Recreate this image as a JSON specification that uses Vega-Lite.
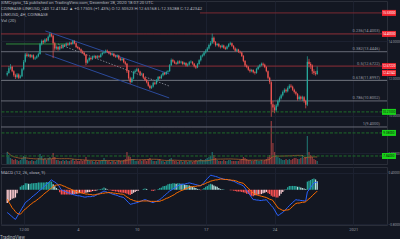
{
"$schema": "https://vega.github.io/schema/vega-lite/v6.json",
"background": "#131722",
"padding": 0,
"spacing": 1,
"title": {"text": "TradingView", "orient": "bottom", "anchor": "start", "fontSize": 4.5, "fontWeight": "normal", "color": "#b2b5be", "offset": 3},
"datasets": {
"k": [
{"t":"2020-11-26T20:00:00Z","o":12.2,"h":12.4,"l":12.12,"c":12.3,"v":600,"m":-0.53,"s":-0.22,"d":-0.31},
{"t":"2020-11-27T00:00:00Z","o":12.3,"h":12.68,"l":12.26,"c":12.55,"v":450,"m":-0.56,"s":-0.29,"d":-0.27},
{"t":"2020-11-27T04:00:00Z","o":12.55,"h":12.78,"l":12.48,"c":12.62,"v":300,"m":-0.59,"s":-0.35,"d":-0.24},
{"t":"2020-11-27T08:00:00Z","o":12.62,"h":12.68,"l":12.34,"c":12.4,"v":250,"m":-0.63,"s":-0.42,"d":-0.21},
{"t":"2020-11-27T12:00:00Z","o":12.4,"h":12.45,"l":12.1,"c":12.18,"v":200,"m":-0.66,"s":-0.46,"d":-0.2},
{"t":"2020-11-27T16:00:00Z","o":12.18,"h":12.26,"l":11.98,"c":12.08,"v":250,"m":-0.69,"s":-0.51,"d":-0.18},
{"t":"2020-11-27T20:00:00Z","o":12.08,"h":12.3,"l":12.02,"c":12.22,"v":200,"m":-0.63,"s":-0.55,"d":-0.08},
{"t":"2020-11-28T00:00:00Z","o":12.22,"h":12.28,"l":11.98,"c":12.05,"v":150,"m":-0.56,"s":-0.56,"d":0.0},
{"t":"2020-11-28T04:00:00Z","o":12.05,"h":12.2,"l":12.0,"c":12.12,"v":200,"m":-0.5,"s":-0.57,"d":0.07},
{"t":"2020-11-28T08:00:00Z","o":12.12,"h":12.58,"l":12.08,"c":12.5,"v":300,"m":-0.43,"s":-0.53,"d":0.1},
{"t":"2020-11-28T12:00:00Z","o":12.5,"h":13.0,"l":12.44,"c":12.9,"v":400,"m":-0.37,"s":-0.48,"d":0.11},
{"t":"2020-11-28T16:00:00Z","o":12.9,"h":13.38,"l":12.86,"c":13.3,"v":350,"m":-0.3,"s":-0.45,"d":0.15},
{"t":"2020-11-28T20:00:00Z","o":13.3,"h":13.4,"l":13.14,"c":13.22,"v":200,"m":-0.27,"s":-0.42,"d":0.15},
{"t":"2020-11-29T00:00:00Z","o":13.22,"h":13.34,"l":13.16,"c":13.28,"v":150,"m":-0.24,"s":-0.38,"d":0.14},
{"t":"2020-11-29T04:00:00Z","o":13.28,"h":13.32,"l":13.1,"c":13.18,"v":150,"m":-0.21,"s":-0.35,"d":0.14},
{"t":"2020-11-29T08:00:00Z","o":13.18,"h":13.3,"l":13.12,"c":13.25,"v":200,"m":-0.17,"s":-0.32,"d":0.15},
{"t":"2020-11-29T12:00:00Z","o":13.25,"h":13.3,"l":13.02,"c":13.08,"v":150,"m":-0.14,"s":-0.29,"d":0.15},
{"t":"2020-11-29T16:00:00Z","o":13.08,"h":13.18,"l":13.0,"c":13.12,"v":150,"m":-0.11,"s":-0.27,"d":0.16},
{"t":"2020-11-29T20:00:00Z","o":13.12,"h":13.26,"l":13.06,"c":13.2,"v":200,"m":-0.08,"s":-0.24,"d":0.16},
{"t":"2020-11-30T00:00:00Z","o":13.2,"h":13.4,"l":13.15,"c":13.32,"v":300,"m":-0.04,"s":-0.21,"d":0.17},
{"t":"2020-11-30T04:00:00Z","o":13.32,"h":13.92,"l":13.28,"c":13.85,"v":500,"m":-0.01,"s":-0.18,"d":0.17},
{"t":"2020-11-30T08:00:00Z","o":13.85,"h":14.1,"l":13.78,"c":14.02,"v":400,"m":0.02,"s":-0.15,"d":0.17},
{"t":"2020-11-30T12:00:00Z","o":14.02,"h":14.08,"l":13.86,"c":13.95,"v":250,"m":0.06,"s":-0.11,"d":0.17},
{"t":"2020-11-30T16:00:00Z","o":13.95,"h":14.16,"l":13.9,"c":14.1,"v":300,"m":0.09,"s":-0.08,"d":0.17},
{"t":"2020-11-30T20:00:00Z","o":14.1,"h":14.18,"l":13.98,"c":14.05,"v":200,"m":0.13,"s":-0.05,"d":0.18},
{"t":"2020-12-01T00:00:00Z","o":14.05,"h":14.32,"l":14.0,"c":14.25,"v":300,"m":0.16,"s":-0.02,"d":0.18},
{"t":"2020-12-01T04:00:00Z","o":14.25,"h":14.48,"l":14.2,"c":14.38,"v":350,"m":0.2,"s":0.01,"d":0.19},
{"t":"2020-12-01T08:00:00Z","o":14.38,"h":14.44,"l":14.22,"c":14.3,"v":250,"m":0.23,"s":0.04,"d":0.19},
{"t":"2020-12-01T12:00:00Z","o":14.3,"h":14.34,"l":13.1,"c":13.9,"v":550,"m":0.2,"s":0.07,"d":0.13},
{"t":"2020-12-01T16:00:00Z","o":13.9,"h":13.96,"l":13.5,"c":13.62,"v":350,"m":0.18,"s":0.1,"d":0.08},
{"t":"2020-12-01T20:00:00Z","o":13.62,"h":13.78,"l":13.55,"c":13.7,"v":200,"m":0.15,"s":0.11,"d":0.04},
{"t":"2020-12-02T00:00:00Z","o":13.7,"h":13.76,"l":13.5,"c":13.58,"v":200,"m":0.12,"s":0.11,"d":0.01},
{"t":"2020-12-02T04:00:00Z","o":13.58,"h":13.78,"l":13.52,"c":13.72,"v":150,"m":0.06,"s":0.12,"d":-0.06},
{"t":"2020-12-02T08:00:00Z","o":13.72,"h":13.8,"l":13.6,"c":13.66,"v":150,"m":0.0,"s":0.11,"d":-0.11},
{"t":"2020-12-02T12:00:00Z","o":13.66,"h":13.86,"l":13.6,"c":13.8,"v":200,"m":-0.02,"s":0.09,"d":-0.11},
{"t":"2020-12-02T16:00:00Z","o":13.8,"h":13.86,"l":13.7,"c":13.76,"v":150,"m":-0.03,"s":0.08,"d":-0.11},
{"t":"2020-12-02T20:00:00Z","o":13.76,"h":13.94,"l":13.7,"c":13.88,"v":200,"m":-0.05,"s":0.06,"d":-0.11},
{"t":"2020-12-03T00:00:00Z","o":13.88,"h":13.94,"l":13.76,"c":13.82,"v":150,"m":-0.07,"s":0.04,"d":-0.11},
{"t":"2020-12-03T04:00:00Z","o":13.82,"h":13.98,"l":13.78,"c":13.92,"v":150,"m":-0.08,"s":0.03,"d":-0.11},
{"t":"2020-12-03T08:00:00Z","o":13.92,"h":13.98,"l":13.8,"c":13.86,"v":200,"m":-0.1,"s":0.01,"d":-0.11},
{"t":"2020-12-03T12:00:00Z","o":13.86,"h":14.08,"l":13.82,"c":14.02,"v":250,"m":-0.11,"s":-0.01,"d":-0.1},
{"t":"2020-12-03T16:00:00Z","o":14.02,"h":14.06,"l":13.84,"c":13.9,"v":150,"m":-0.12,"s":-0.02,"d":-0.1},
{"t":"2020-12-03T20:00:00Z","o":13.9,"h":13.94,"l":13.64,"c":13.7,"v":200,"m":-0.13,"s":-0.04,"d":-0.09},
{"t":"2020-12-04T00:00:00Z","o":13.7,"h":13.76,"l":13.58,"c":13.64,"v":150,"m":-0.14,"s":-0.05,"d":-0.09},
{"t":"2020-12-04T04:00:00Z","o":13.64,"h":13.7,"l":13.52,"c":13.58,"v":150,"m":-0.14,"s":-0.06,"d":-0.08},
{"t":"2020-12-04T08:00:00Z","o":13.58,"h":13.62,"l":13.4,"c":13.46,"v":200,"m":-0.15,"s":-0.07,"d":-0.08},
{"t":"2020-12-04T12:00:00Z","o":13.46,"h":13.52,"l":13.32,"c":13.38,"v":150,"m":-0.16,"s":-0.08,"d":-0.08},
{"t":"2020-12-04T16:00:00Z","o":13.38,"h":13.44,"l":13.22,"c":13.28,"v":200,"m":-0.17,"s":-0.09,"d":-0.08},
{"t":"2020-12-04T20:00:00Z","o":13.28,"h":13.32,"l":12.72,"c":12.85,"v":350,"m":-0.17,"s":-0.1,"d":-0.07},
{"t":"2020-12-05T00:00:00Z","o":12.85,"h":13.04,"l":12.8,"c":12.98,"v":200,"m":-0.16,"s":-0.1,"d":-0.06},
{"t":"2020-12-05T04:00:00Z","o":12.98,"h":13.16,"l":12.92,"c":13.1,"v":150,"m":-0.16,"s":-0.11,"d":-0.05},
{"t":"2020-12-05T08:00:00Z","o":13.1,"h":13.16,"l":12.98,"c":13.05,"v":150,"m":-0.16,"s":-0.11,"d":-0.05},
{"t":"2020-12-05T12:00:00Z","o":13.05,"h":13.24,"l":13.0,"c":13.18,"v":150,"m":-0.15,"s":-0.12,"d":-0.03},
{"t":"2020-12-05T16:00:00Z","o":13.18,"h":13.28,"l":13.12,"c":13.22,"v":100,"m":-0.15,"s":-0.12,"d":-0.03},
{"t":"2020-12-05T20:00:00Z","o":13.22,"h":13.26,"l":13.06,"c":13.12,"v":150,"m":-0.13,"s":-0.11,"d":-0.02},
{"t":"2020-12-06T00:00:00Z","o":13.12,"h":13.26,"l":13.08,"c":13.2,"v":100,"m":-0.11,"s":-0.1,"d":-0.01},
{"t":"2020-12-06T04:00:00Z","o":13.2,"h":13.26,"l":13.1,"c":13.16,"v":150,"m":-0.09,"s":-0.1,"d":0.01},
{"t":"2020-12-06T08:00:00Z","o":13.16,"h":13.36,"l":13.12,"c":13.3,"v":150,"m":-0.07,"s":-0.09,"d":0.02},
{"t":"2020-12-06T12:00:00Z","o":13.3,"h":13.44,"l":13.24,"c":13.38,"v":200,"m":-0.05,"s":-0.08,"d":0.03},
{"t":"2020-12-06T16:00:00Z","o":13.38,"h":13.5,"l":13.32,"c":13.42,"v":300,"m":-0.03,"s":-0.08,"d":0.05},
{"t":"2020-12-06T20:00:00Z","o":13.42,"h":13.56,"l":13.36,"c":13.5,"v":200,"m":-0.04,"s":-0.07,"d":0.03},
{"t":"2020-12-07T00:00:00Z","o":13.5,"h":13.56,"l":13.38,"c":13.44,"v":150,"m":-0.06,"s":-0.07,"d":0.01},
{"t":"2020-12-07T04:00:00Z","o":13.44,"h":13.48,"l":13.3,"c":13.36,"v":150,"m":-0.07,"s":-0.06,"d":-0.01},
{"t":"2020-12-07T08:00:00Z","o":13.36,"h":13.42,"l":13.24,"c":13.3,"v":100,"m":-0.08,"s":-0.07,"d":-0.01},
{"t":"2020-12-07T12:00:00Z","o":13.3,"h":13.4,"l":13.24,"c":13.34,"v":150,"m":-0.1,"s":-0.07,"d":-0.03},
{"t":"2020-12-07T16:00:00Z","o":13.34,"h":13.38,"l":13.16,"c":13.22,"v":150,"m":-0.11,"s":-0.08,"d":-0.03},
{"t":"2020-12-07T20:00:00Z","o":13.22,"h":13.28,"l":13.12,"c":13.18,"v":100,"m":-0.12,"s":-0.08,"d":-0.04},
{"t":"2020-12-08T00:00:00Z","o":13.18,"h":13.3,"l":13.12,"c":13.24,"v":150,"m":-0.13,"s":-0.09,"d":-0.04},
{"t":"2020-12-08T04:00:00Z","o":13.24,"h":13.28,"l":13.02,"c":13.08,"v":200,"m":-0.15,"s":-0.09,"d":-0.06},
{"t":"2020-12-08T08:00:00Z","o":13.08,"h":13.14,"l":12.94,"c":13.0,"v":150,"m":-0.16,"s":-0.1,"d":-0.06},
{"t":"2020-12-08T12:00:00Z","o":13.0,"h":13.12,"l":12.94,"c":13.06,"v":150,"m":-0.17,"s":-0.1,"d":-0.07},
{"t":"2020-12-08T16:00:00Z","o":13.06,"h":13.1,"l":12.82,"c":12.88,"v":200,"m":-0.18,"s":-0.11,"d":-0.07},
{"t":"2020-12-08T20:00:00Z","o":12.88,"h":12.94,"l":12.72,"c":12.8,"v":250,"m":-0.22,"s":-0.14,"d":-0.08},
{"t":"2020-12-09T00:00:00Z","o":12.8,"h":12.84,"l":12.3,"c":12.4,"v":600,"m":-0.26,"s":-0.17,"d":-0.09},
{"t":"2020-12-09T04:00:00Z","o":12.4,"h":12.46,"l":11.94,"c":12.02,"v":400,"m":-0.3,"s":-0.19,"d":-0.11},
{"t":"2020-12-09T08:00:00Z","o":12.02,"h":12.1,"l":11.72,"c":11.82,"v":350,"m":-0.34,"s":-0.22,"d":-0.12},
{"t":"2020-12-09T12:00:00Z","o":11.82,"h":12.08,"l":11.76,"c":12.0,"v":250,"m":-0.33,"s":-0.23,"d":-0.1},
{"t":"2020-12-09T16:00:00Z","o":12.0,"h":12.42,"l":11.96,"c":12.35,"v":250,"m":-0.32,"s":-0.25,"d":-0.07},
{"t":"2020-12-09T20:00:00Z","o":12.35,"h":12.5,"l":12.28,"c":12.42,"v":150,"m":-0.31,"s":-0.26,"d":-0.05},
{"t":"2020-12-10T00:00:00Z","o":12.42,"h":12.58,"l":12.36,"c":12.5,"v":150,"m":-0.3,"s":-0.27,"d":-0.03},
{"t":"2020-12-10T04:00:00Z","o":12.5,"h":12.56,"l":12.32,"c":12.38,"v":150,"m":-0.29,"s":-0.27,"d":-0.02},
{"t":"2020-12-10T08:00:00Z","o":12.38,"h":12.42,"l":12.16,"c":12.22,"v":200,"m":-0.27,"s":-0.27,"d":0.0},
{"t":"2020-12-10T12:00:00Z","o":12.22,"h":12.32,"l":12.16,"c":12.26,"v":150,"m":-0.26,"s":-0.26,"d":0.0},
{"t":"2020-12-10T16:00:00Z","o":12.26,"h":12.3,"l":11.98,"c":12.05,"v":200,"m":-0.24,"s":-0.26,"d":0.02},
{"t":"2020-12-10T20:00:00Z","o":12.05,"h":12.1,"l":11.86,"c":11.92,"v":200,"m":-0.23,"s":-0.26,"d":0.03},
{"t":"2020-12-11T00:00:00Z","o":11.92,"h":11.98,"l":11.74,"c":11.8,"v":150,"m":-0.24,"s":-0.26,"d":0.02},
{"t":"2020-12-11T04:00:00Z","o":11.8,"h":11.86,"l":11.56,"c":11.62,"v":250,"m":-0.26,"s":-0.26,"d":0.0},
{"t":"2020-12-11T08:00:00Z","o":11.62,"h":11.68,"l":11.42,"c":11.5,"v":300,"m":-0.27,"s":-0.27,"d":0.0},
{"t":"2020-12-11T12:00:00Z","o":11.5,"h":11.64,"l":11.44,"c":11.58,"v":200,"m":-0.29,"s":-0.27,"d":-0.02},
{"t":"2020-12-11T16:00:00Z","o":11.58,"h":11.84,"l":11.52,"c":11.78,"v":150,"m":-0.3,"s":-0.27,"d":-0.03},
{"t":"2020-12-11T20:00:00Z","o":11.78,"h":11.84,"l":11.66,"c":11.72,"v":150,"m":-0.28,"s":-0.27,"d":-0.01},
{"t":"2020-12-12T00:00:00Z","o":11.72,"h":11.98,"l":11.68,"c":11.92,"v":150,"m":-0.27,"s":-0.27,"d":0.0},
{"t":"2020-12-12T04:00:00Z","o":11.92,"h":12.14,"l":11.86,"c":12.08,"v":200,"m":-0.25,"s":-0.27,"d":0.02},
{"t":"2020-12-12T08:00:00Z","o":12.08,"h":12.14,"l":11.96,"c":12.02,"v":250,"m":-0.23,"s":-0.27,"d":0.04},
{"t":"2020-12-12T12:00:00Z","o":12.02,"h":12.24,"l":11.98,"c":12.18,"v":150,"m":-0.2,"s":-0.25,"d":0.05},
{"t":"2020-12-12T16:00:00Z","o":12.18,"h":12.36,"l":12.12,"c":12.3,"v":150,"m":-0.16,"s":-0.24,"d":0.08},
{"t":"2020-12-12T20:00:00Z","o":12.3,"h":12.36,"l":12.18,"c":12.24,"v":100,"m":-0.13,"s":-0.22,"d":0.09},
{"t":"2020-12-13T00:00:00Z","o":12.24,"h":12.42,"l":12.2,"c":12.36,"v":150,"m":-0.1,"s":-0.2,"d":0.1},
{"t":"2020-12-13T04:00:00Z","o":12.36,"h":12.46,"l":12.3,"c":12.4,"v":150,"m":-0.06,"s":-0.19,"d":0.13},
{"t":"2020-12-13T08:00:00Z","o":12.4,"h":12.78,"l":12.36,"c":12.72,"v":250,"m":-0.03,"s":-0.17,"d":0.14},
{"t":"2020-12-13T12:00:00Z","o":12.72,"h":13.08,"l":12.68,"c":13.0,"v":300,"m":-0.01,"s":-0.15,"d":0.14},
{"t":"2020-12-13T16:00:00Z","o":13.0,"h":13.06,"l":12.86,"c":12.92,"v":200,"m":0.02,"s":-0.13,"d":0.15},
{"t":"2020-12-13T20:00:00Z","o":12.92,"h":12.98,"l":12.78,"c":12.84,"v":150,"m":0.04,"s":-0.11,"d":0.15},
{"t":"2020-12-14T00:00:00Z","o":12.84,"h":12.9,"l":12.74,"c":12.8,"v":150,"m":0.06,"s":-0.08,"d":0.14},
{"t":"2020-12-14T04:00:00Z","o":12.8,"h":12.98,"l":12.76,"c":12.92,"v":100,"m":0.09,"s":-0.06,"d":0.15},
{"t":"2020-12-14T08:00:00Z","o":12.92,"h":12.98,"l":12.8,"c":12.86,"v":150,"m":0.11,"s":-0.04,"d":0.15},
{"t":"2020-12-14T12:00:00Z","o":12.86,"h":12.96,"l":12.8,"c":12.9,"v":150,"m":0.12,"s":-0.02,"d":0.14},
{"t":"2020-12-14T16:00:00Z","o":12.9,"h":12.94,"l":12.72,"c":12.78,"v":100,"m":0.13,"s":-0.01,"d":0.14},
{"t":"2020-12-14T20:00:00Z","o":12.78,"h":12.9,"l":12.72,"c":12.84,"v":150,"m":0.13,"s":0.01,"d":0.12},
{"t":"2020-12-15T00:00:00Z","o":12.84,"h":12.88,"l":12.64,"c":12.7,"v":150,"m":0.14,"s":0.03,"d":0.11},
{"t":"2020-12-15T04:00:00Z","o":12.7,"h":12.82,"l":12.64,"c":12.76,"v":100,"m":0.15,"s":0.04,"d":0.11},
{"t":"2020-12-15T08:00:00Z","o":12.76,"h":12.94,"l":12.7,"c":12.88,"v":150,"m":0.16,"s":0.06,"d":0.1},
{"t":"2020-12-15T12:00:00Z","o":12.88,"h":12.98,"l":12.82,"c":12.9,"v":150,"m":0.15,"s":0.07,"d":0.08},
{"t":"2020-12-15T16:00:00Z","o":12.9,"h":12.94,"l":12.74,"c":12.8,"v":100,"m":0.14,"s":0.07,"d":0.07},
{"t":"2020-12-15T20:00:00Z","o":12.8,"h":12.84,"l":12.6,"c":12.66,"v":150,"m":0.13,"s":0.08,"d":0.05},
{"t":"2020-12-16T00:00:00Z","o":12.66,"h":12.72,"l":12.52,"c":12.6,"v":200,"m":0.12,"s":0.08,"d":0.04},
{"t":"2020-12-16T04:00:00Z","o":12.6,"h":12.84,"l":12.56,"c":12.78,"v":150,"m":0.11,"s":0.09,"d":0.02},
{"t":"2020-12-16T08:00:00Z","o":12.78,"h":13.04,"l":12.74,"c":12.98,"v":200,"m":0.1,"s":0.09,"d":0.01},
{"t":"2020-12-16T12:00:00Z","o":12.98,"h":13.26,"l":12.92,"c":13.2,"v":250,"m":0.09,"s":0.1,"d":-0.01},
{"t":"2020-12-16T16:00:00Z","o":13.2,"h":13.34,"l":13.14,"c":13.26,"v":200,"m":0.13,"s":0.12,"d":0.01},
{"t":"2020-12-16T20:00:00Z","o":13.26,"h":13.46,"l":13.2,"c":13.4,"v":200,"m":0.17,"s":0.13,"d":0.04},
{"t":"2020-12-17T00:00:00Z","o":13.4,"h":13.58,"l":13.34,"c":13.5,"v":250,"m":0.22,"s":0.15,"d":0.07},
{"t":"2020-12-17T04:00:00Z","o":13.5,"h":13.7,"l":13.44,"c":13.62,"v":300,"m":0.26,"s":0.17,"d":0.09},
{"t":"2020-12-17T08:00:00Z","o":13.62,"h":13.88,"l":13.56,"c":13.8,"v":350,"m":0.3,"s":0.18,"d":0.12},
{"t":"2020-12-17T12:00:00Z","o":13.8,"h":14.02,"l":13.74,"c":13.92,"v":400,"m":0.34,"s":0.2,"d":0.14},
{"t":"2020-12-17T16:00:00Z","o":13.92,"h":14.42,"l":13.86,"c":14.2,"v":600,"m":0.33,"s":0.21,"d":0.12},
{"t":"2020-12-17T20:00:00Z","o":14.2,"h":14.26,"l":13.88,"c":13.96,"v":450,"m":0.32,"s":0.22,"d":0.1},
{"t":"2020-12-18T00:00:00Z","o":13.96,"h":14.02,"l":13.72,"c":13.8,"v":300,"m":0.31,"s":0.23,"d":0.08},
{"t":"2020-12-18T04:00:00Z","o":13.8,"h":13.92,"l":13.74,"c":13.86,"v":200,"m":0.3,"s":0.23,"d":0.07},
{"t":"2020-12-18T08:00:00Z","o":13.86,"h":13.92,"l":13.68,"c":13.74,"v":150,"m":0.28,"s":0.24,"d":0.04},
{"t":"2020-12-18T12:00:00Z","o":13.74,"h":13.8,"l":13.62,"c":13.7,"v":150,"m":0.27,"s":0.25,"d":0.02},
{"t":"2020-12-18T16:00:00Z","o":13.7,"h":13.84,"l":13.64,"c":13.78,"v":150,"m":0.26,"s":0.25,"d":0.01},
{"t":"2020-12-18T20:00:00Z","o":13.78,"h":13.82,"l":13.6,"c":13.66,"v":200,"m":0.25,"s":0.24,"d":0.01},
{"t":"2020-12-19T00:00:00Z","o":13.66,"h":13.72,"l":13.54,"c":13.6,"v":150,"m":0.24,"s":0.24,"d":0.0},
{"t":"2020-12-19T04:00:00Z","o":13.6,"h":13.78,"l":13.56,"c":13.72,"v":150,"m":0.24,"s":0.24,"d":0.0},
{"t":"2020-12-19T08:00:00Z","o":13.72,"h":13.9,"l":13.68,"c":13.85,"v":200,"m":0.23,"s":0.23,"d":0.0},
{"t":"2020-12-19T12:00:00Z","o":13.85,"h":13.98,"l":13.8,"c":13.9,"v":200,"m":0.22,"s":0.23,"d":-0.01},
{"t":"2020-12-19T16:00:00Z","o":13.9,"h":13.94,"l":13.7,"c":13.76,"v":150,"m":0.21,"s":0.22,"d":-0.01},
{"t":"2020-12-19T20:00:00Z","o":13.76,"h":13.8,"l":13.56,"c":13.62,"v":150,"m":0.2,"s":0.22,"d":-0.02},
{"t":"2020-12-20T00:00:00Z","o":13.62,"h":13.68,"l":13.44,"c":13.5,"v":150,"m":0.18,"s":0.21,"d":-0.03},
{"t":"2020-12-20T04:00:00Z","o":13.5,"h":13.62,"l":13.44,"c":13.56,"v":150,"m":0.16,"s":0.2,"d":-0.04},
{"t":"2020-12-20T08:00:00Z","o":13.56,"h":13.6,"l":13.38,"c":13.44,"v":150,"m":0.14,"s":0.18,"d":-0.04},
{"t":"2020-12-20T12:00:00Z","o":13.44,"h":13.5,"l":13.34,"c":13.4,"v":200,"m":0.13,"s":0.17,"d":-0.04},
{"t":"2020-12-20T16:00:00Z","o":13.4,"h":13.44,"l":13.16,"c":13.22,"v":250,"m":0.11,"s":0.16,"d":-0.05},
{"t":"2020-12-20T20:00:00Z","o":13.22,"h":13.26,"l":12.88,"c":12.95,"v":350,"m":0.09,"s":0.15,"d":-0.06},
{"t":"2020-12-21T00:00:00Z","o":12.95,"h":13.0,"l":12.62,"c":12.7,"v":300,"m":0.04,"s":0.11,"d":-0.07},
{"t":"2020-12-21T04:00:00Z","o":12.7,"h":12.76,"l":12.56,"c":12.62,"v":250,"m":-0.02,"s":0.07,"d":-0.09},
{"t":"2020-12-21T08:00:00Z","o":12.62,"h":12.68,"l":12.42,"c":12.48,"v":200,"m":-0.07,"s":0.03,"d":-0.1},
{"t":"2020-12-21T12:00:00Z","o":12.48,"h":12.54,"l":12.32,"c":12.4,"v":200,"m":-0.12,"s":0.0,"d":-0.12},
{"t":"2020-12-21T16:00:00Z","o":12.4,"h":12.52,"l":12.34,"c":12.46,"v":150,"m":-0.18,"s":-0.04,"d":-0.14},
{"t":"2020-12-21T20:00:00Z","o":12.46,"h":12.5,"l":12.28,"c":12.34,"v":150,"m":-0.23,"s":-0.08,"d":-0.15},
{"t":"2020-12-22T00:00:00Z","o":12.34,"h":12.4,"l":12.22,"c":12.3,"v":200,"m":-0.23,"s":-0.1,"d":-0.13},
{"t":"2020-12-22T04:00:00Z","o":12.3,"h":12.58,"l":12.26,"c":12.52,"v":200,"m":-0.24,"s":-0.11,"d":-0.13},
{"t":"2020-12-22T08:00:00Z","o":12.52,"h":12.7,"l":12.46,"c":12.64,"v":150,"m":-0.24,"s":-0.13,"d":-0.11},
{"t":"2020-12-22T12:00:00Z","o":12.64,"h":12.78,"l":12.58,"c":12.72,"v":150,"m":-0.25,"s":-0.14,"d":-0.11},
{"t":"2020-12-22T16:00:00Z","o":12.72,"h":12.86,"l":12.66,"c":12.8,"v":200,"m":-0.25,"s":-0.15,"d":-0.1},
{"t":"2020-12-22T20:00:00Z","o":12.8,"h":12.86,"l":12.68,"c":12.74,"v":150,"m":-0.24,"s":-0.16,"d":-0.08},
{"t":"2020-12-23T00:00:00Z","o":12.74,"h":12.8,"l":12.56,"c":12.62,"v":200,"m":-0.24,"s":-0.17,"d":-0.07},
{"t":"2020-12-23T04:00:00Z","o":12.62,"h":12.66,"l":12.34,"c":12.4,"v":250,"m":-0.23,"s":-0.18,"d":-0.05},
{"t":"2020-12-23T08:00:00Z","o":12.4,"h":12.44,"l":11.96,"c":12.05,"v":350,"m":-0.28,"s":-0.2,"d":-0.08},
{"t":"2020-12-23T12:00:00Z","o":12.05,"h":12.1,"l":11.7,"c":11.8,"v":450,"m":-0.32,"s":-0.22,"d":-0.1},
{"t":"2020-12-23T16:00:00Z","o":11.8,"h":11.86,"l":9.95,"c":10.62,"v":2150,"m":-0.37,"s":-0.23,"d":-0.14},
{"t":"2020-12-23T20:00:00Z","o":10.62,"h":10.8,"l":10.2,"c":10.45,"v":1050,"m":-0.41,"s":-0.25,"d":-0.16},
{"t":"2020-12-24T00:00:00Z","o":10.45,"h":10.6,"l":10.14,"c":10.3,"v":600,"m":-0.47,"s":-0.31,"d":-0.16},
{"t":"2020-12-24T04:00:00Z","o":10.3,"h":10.64,"l":10.22,"c":10.55,"v":450,"m":-0.54,"s":-0.36,"d":-0.18},
{"t":"2020-12-24T08:00:00Z","o":10.55,"h":10.88,"l":10.48,"c":10.8,"v":350,"m":-0.6,"s":-0.42,"d":-0.18},
{"t":"2020-12-24T12:00:00Z","o":10.8,"h":11.04,"l":10.72,"c":10.95,"v":300,"m":-0.58,"s":-0.44,"d":-0.14},
{"t":"2020-12-24T16:00:00Z","o":10.95,"h":11.18,"l":10.88,"c":11.1,"v":250,"m":-0.55,"s":-0.46,"d":-0.09},
{"t":"2020-12-24T20:00:00Z","o":11.1,"h":11.36,"l":11.04,"c":11.28,"v":200,"m":-0.53,"s":-0.48,"d":-0.05},
{"t":"2020-12-25T00:00:00Z","o":11.28,"h":11.48,"l":11.22,"c":11.4,"v":200,"m":-0.49,"s":-0.48,"d":-0.01},
{"t":"2020-12-25T04:00:00Z","o":11.4,"h":11.46,"l":11.24,"c":11.32,"v":250,"m":-0.45,"s":-0.47,"d":0.02},
{"t":"2020-12-25T08:00:00Z","o":11.32,"h":11.58,"l":11.26,"c":11.5,"v":200,"m":-0.41,"s":-0.47,"d":0.06},
{"t":"2020-12-25T12:00:00Z","o":11.5,"h":11.7,"l":11.44,"c":11.62,"v":250,"m":-0.37,"s":-0.46,"d":0.09},
{"t":"2020-12-25T16:00:00Z","o":11.62,"h":11.7,"l":11.5,"c":11.56,"v":200,"m":-0.33,"s":-0.42,"d":0.09},
{"t":"2020-12-25T20:00:00Z","o":11.56,"h":11.62,"l":11.34,"c":11.4,"v":250,"m":-0.3,"s":-0.39,"d":0.09},
{"t":"2020-12-26T00:00:00Z","o":11.4,"h":11.46,"l":11.2,"c":11.28,"v":300,"m":-0.26,"s":-0.35,"d":0.09},
{"t":"2020-12-26T04:00:00Z","o":11.28,"h":11.34,"l":11.1,"c":11.18,"v":300,"m":-0.23,"s":-0.32,"d":0.09},
{"t":"2020-12-26T08:00:00Z","o":11.18,"h":11.22,"l":10.82,"c":10.9,"v":250,"m":-0.24,"s":-0.31,"d":0.07},
{"t":"2020-12-26T12:00:00Z","o":10.9,"h":11.1,"l":10.84,"c":11.02,"v":250,"m":-0.24,"s":-0.31,"d":0.07},
{"t":"2020-12-26T16:00:00Z","o":11.02,"h":11.08,"l":10.84,"c":10.92,"v":300,"m":-0.25,"s":-0.3,"d":0.05},
{"t":"2020-12-26T20:00:00Z","o":10.92,"h":11.08,"l":10.8,"c":11.0,"v":450,"m":-0.25,"s":-0.29,"d":0.04},
{"t":"2020-12-27T00:00:00Z","o":11.0,"h":11.06,"l":10.7,"c":10.8,"v":300,"m":-0.26,"s":-0.29,"d":0.03},
{"t":"2020-12-27T04:00:00Z","o":10.8,"h":10.86,"l":10.4,"c":10.6,"v":350,"m":-0.26,"s":-0.28,"d":0.02},
{"t":"2020-12-27T08:00:00Z","o":10.6,"h":13.2,"l":10.52,"c":12.9,"v":1400,"m":-0.05,"s":-0.24,"d":0.19},
{"t":"2020-12-27T12:00:00Z","o":12.9,"h":13.06,"l":12.6,"c":12.78,"v":600,"m":0.0,"s":-0.21,"d":0.21},
{"t":"2020-12-27T16:00:00Z","o":12.78,"h":12.88,"l":12.52,"c":12.7,"v":450,"m":0.05,"s":-0.18,"d":0.23},
{"t":"2020-12-27T20:00:00Z","o":12.7,"h":12.76,"l":12.24,"c":12.4,"v":350,"m":0.11,"s":-0.14,"d":0.25},
{"t":"2020-12-28T00:00:00Z","o":12.4,"h":12.5,"l":12.2,"c":12.3,"v":250,"m":0.16,"s":-0.1,"d":0.26},
{"t":"2020-12-28T04:00:00Z","o":12.3,"h":12.4,"l":12.16,"c":12.25,"v":200,"m":0.17,"s":-0.07,"d":0.24},
{"t":"2020-12-28T08:00:00Z","o":12.25,"h":12.65,"l":12.2,"c":12.42,"v":150,"m":0.17,"s":-0.03,"d":0.2}
],
"lev": [
{"p":14.4003,"k":"res"},
{"p":13.4446,"k":"fib"},
{"p":12.6722,"k":"res"},
{"p":11.8997,"k":"fib"},
{"p":10.8002,"k":"fib"},
{"p":10.21,"k":"sup"},
{"p":9.4,"k":"fib"},
{"p":9.08,"k":"sup"},
{"p":7.84,"k":"sup"}
],
"seg": [
{"p":15.53,"k":"res","a":"2020-12-16T10:00:00Z","b":"2021-01-03T22:00:00Z"},
{"p":13.86,"k":"grn","a":"2020-11-26T17:00:00Z","b":"2020-12-02T20:00:00Z"}
],
"tl": [
{"id":"upper","t":"2020-11-30T17:00:00Z","p":14.56},
{"id":"upper","t":"2020-12-13T07:00:00Z","p":12.25},
{"id":"lower","t":"2020-11-30T17:00:00Z","p":13.33},
{"id":"lower","t":"2020-12-13T07:00:00Z","p":10.96},
{"id":"mid","t":"2020-12-02T00:00:00Z","p":13.86},
{"id":"mid","t":"2020-12-13T07:00:00Z","p":11.6}
],
"fib": [
{"p":14.4003,"lab":"0.236(14.4003)"},
{"p":13.4446,"lab":"0.382(13.4446)"},
{"p":12.6722,"lab":"0.5(12.6722)"},
{"p":11.8997,"lab":"0.618(11.8997)"},
{"p":10.8002,"lab":"0.786(10.8002)"},
{"p":9.4,"lab":"1(9.4000)"}
],
"tag": [
{"p":15.53,"k":"r","lab":"15.53000"},
{"p":14.4003,"k":"r","lab":"14.40030"},
{"p":12.6722,"k":"r","lab":"12.67220"},
{"p":12.3,"k":"r","lab":"12.42342"},
{"p":10.21,"k":"g","lab":"10.21000"},
{"p":9.08,"k":"g","lab":"9.08000"},
{"p":7.84,"k":"g","lab":"7.84000"}
]
},
"vconcat": [
{
"width": 386,
"height": 163,
"title": {"text": ["SIMCrypto_TA published on TradingView.com, December 28, 2020 18:07:20 UTC", "COINBASE:LINKUSD, 240  12.41342 \u25b2 +0.17505 (+1.43%) O:12.50523 H:12.65168 L:12.35288 C:12.42342", "LINKUSD, 4H, COINBASE", "Vol (20)"], "anchor": "start", "orient": "top", "frame": "group", "fontSize": 4.3, "fontWeight": "normal", "color": "#b2b5be", "lineHeight": 6, "offset": -22},
"layer": [
{
"data": {"name": "k"},
"transform": [{"window": [{"op": "mean", "field": "v", "as": "vma"}], "frame": [-19, 0], "sort": [{"field": "t"}]}],
"layer": [
{"mark": {"type": "bar", "width": 1.3, "opacity": 0.55},
 "encoding": {
  "x": {"field": "t", "type": "temporal", "scale": {"type": "utc", "domain": [{"year": 2020, "month": 11, "date": 26, "hours": 17, "utc": true}, {"year": 2021, "month": 1, "date": 3, "hours": 22, "utc": true}]},
        "axis": {"values": [{"year": 2020, "month": 11, "date": 28, "hours": 12, "utc": true}, {"year": 2020, "month": 12, "date": 1, "utc": true}, {"year": 2020, "month": 12, "date": 4, "utc": true}, {"year": 2020, "month": 12, "date": 7, "utc": true}, {"year": 2020, "month": 12, "date": 10, "utc": true}, {"year": 2020, "month": 12, "date": 14, "utc": true}, {"year": 2020, "month": 12, "date": 17, "utc": true}, {"year": 2020, "month": 12, "date": 21, "utc": true}, {"year": 2020, "month": 12, "date": 24, "utc": true}, {"year": 2020, "month": 12, "date": 28, "utc": true}, {"year": 2021, "month": 1, "date": 1, "utc": true}], "labels": false, "ticks": false, "domain": false, "grid": true, "gridColor": "#1c2130", "title": null}},
  "y": {"field": "v", "type": "quantitative", "scale": {"domain": [0, 8150], "nice": false}, "axis": null},
  "color": {"condition": {"test": "datum.c >= datum.o", "value": "#26a69a"}, "value": "#ef5350"}
 }},
{"mark": {"type": "line", "color": "#b8672c", "strokeWidth": 0.8, "opacity": 0.9},
 "encoding": {
  "x": {"field": "t", "type": "temporal"},
  "y": {"field": "vma", "type": "quantitative"}
 }}
]
},
{
"layer": [
{"data": {"name": "lev"},
 "mark": {"type": "rule", "strokeWidth": 1},
 "encoding": {
  "y": {"field": "p", "type": "quantitative", "scale": {"domain": [7.41, 16.17], "nice": false, "zero": false},
        "axis": {"orient": "right", "values": [8, 8.5, 9, 9.5, 10, 10.5, 11, 11.5, 12, 12.5, 13, 13.5, 14, 14.5, 15, 15.5], "format": ".5f", "labelFontSize": 3.1, "labelColor": "#9598a1", "labelPadding": 1, "labelOverlap": false, "ticks": false, "domain": false, "grid": true, "gridColor": "#1c2130", "title": null}},
  "color": {"condition": [{"test": "datum.k == 'res'", "value": "#8e2f38"}, {"test": "datum.k == 'sup'", "value": "#1f6b2a"}], "value": "#686b76"},
  "strokeDash": {"condition": {"test": "datum.k == 'sup'", "value": [3, 1.5]}, "value": [1, 0]}
 }},
{"data": {"name": "seg"},
 "mark": {"type": "rule", "strokeWidth": 1},
 "encoding": {
  "x": {"field": "a", "type": "temporal"},
  "x2": {"field": "b"},
  "y": {"field": "p", "type": "quantitative"},
  "color": {"condition": {"test": "datum.k == 'res'", "value": "#7a2a31"}, "value": "#2f8a3a"}
 }},
{"data": {"name": "tl"},
 "transform": [{"filter": "datum.id != 'mid'"}],
 "mark": {"type": "line", "color": "#2b4a9a", "strokeWidth": 1},
 "encoding": {
  "x": {"field": "t", "type": "temporal"},
  "y": {"field": "p", "type": "quantitative"},
  "detail": {"field": "id"}
 }},
{"data": {"name": "tl"},
 "transform": [{"filter": "datum.id == 'mid'"}],
 "mark": {"type": "line", "color": "#787b86", "strokeWidth": 1, "strokeDash": [1.5, 1.5]},
 "encoding": {
  "x": {"field": "t", "type": "temporal"},
  "y": {"field": "p", "type": "quantitative"}
 }},
{"data": {"name": "k"},
 "mark": {"type": "rule", "strokeWidth": 0.7},
 "encoding": {
  "x": {"field": "t", "type": "temporal"},
  "y": {"field": "l", "type": "quantitative"},
  "y2": {"field": "h"},
  "color": {"condition": {"test": "datum.c >= datum.o", "value": "#26a69a"}, "value": "#ef5350"}
 }},
{"data": {"name": "k"},
 "mark": {"type": "bar", "width": 1.3},
 "encoding": {
  "x": {"field": "t", "type": "temporal"},
  "y": {"field": "o", "type": "quantitative"},
  "y2": {"field": "c"},
  "color": {"condition": {"test": "datum.c >= datum.o", "value": "#26a69a"}, "value": "#ef5350"}
 }},
{"data": {"name": "fib"},
 "mark": {"type": "text", "align": "right", "baseline": "bottom", "dy": -0.5, "fontSize": 4, "color": "#9598a1"},
 "encoding": {
  "x": {"datum": {"year": 2021, "month": 1, "date": 3, "hours": 17, "utc": true}, "type": "temporal"},
  "y": {"field": "p", "type": "quantitative"},
  "text": {"field": "lab"}
 }},
{"data": {"name": "tag"},
 "mark": {"type": "tick", "orient": "vertical", "thickness": 14, "size": 6, "opacity": 1},
 "encoding": {
  "x": {"datum": {"year": 2021, "month": 1, "date": 4, "hours": 15, "utc": true}, "type": "temporal"},
  "y": {"field": "p", "type": "quantitative"},
  "color": {"condition": {"test": "datum.k == 'r'", "value": "#f0242f"}, "value": "#19d319"}
 }},
{"data": {"name": "tag"},
 "mark": {"type": "text", "align": "center", "baseline": "middle", "fontSize": 3.1},
 "encoding": {
  "x": {"datum": {"year": 2021, "month": 1, "date": 4, "hours": 15, "utc": true}, "type": "temporal"},
  "y": {"field": "p", "type": "quantitative"},
  "text": {"field": "lab"},
  "color": {"condition": {"test": "datum.k == 'r'", "value": "#ffffff"}, "value": "#0c1a0c"}
 }}
]
}
],
"resolve": {"scale": {"y": "independent"}}
},
{
"width": 386,
"height": 58,
"title": {"text": "MACD (12, 26, close, 9)", "anchor": "start", "orient": "top", "frame": "group", "fontSize": 4.3, "fontWeight": "normal", "color": "#b2b5be", "offset": -8},
"data": {"name": "k"},
"transform": [{"window": [{"op": "lag", "field": "d", "as": "pd"}], "sort": [{"field": "t"}]}],
"layer": [
{"mark": {"type": "bar", "width": 1.3},
 "encoding": {
  "x": {"field": "t", "type": "temporal", "scale": {"type": "utc", "domain": [{"year": 2020, "month": 11, "date": 26, "hours": 17, "utc": true}, {"year": 2021, "month": 1, "date": 3, "hours": 22, "utc": true}]},
        "axis": {"values": [{"year": 2020, "month": 11, "date": 28, "hours": 12, "utc": true}, {"year": 2020, "month": 12, "date": 1, "utc": true}, {"year": 2020, "month": 12, "date": 4, "utc": true}, {"year": 2020, "month": 12, "date": 7, "utc": true}, {"year": 2020, "month": 12, "date": 10, "utc": true}, {"year": 2020, "month": 12, "date": 14, "utc": true}, {"year": 2020, "month": 12, "date": 17, "utc": true}, {"year": 2020, "month": 12, "date": 21, "utc": true}, {"year": 2020, "month": 12, "date": 24, "utc": true}, {"year": 2020, "month": 12, "date": 28, "utc": true}, {"year": 2021, "month": 1, "date": 1, "utc": true}],
                 "labelExpr": "utcdate(datum.value) == 1 ? (utcmonth(datum.value) == 0 ? '2021' : 'Dec') : (utchours(datum.value) == 12 ? '12:00' : utcFormat(datum.value, '%-d'))",
                 "labelFontSize": 4, "labelColor": "#9598a1", "labelPadding": 2, "labelOverlap": false, "labelFlush": false, "ticks": false, "domain": false, "grid": true, "gridColor": "#1c2130", "title": null}},
  "y": {"field": "d", "type": "quantitative", "scale": {"domain": [-0.82, 0.53], "nice": false, "zero": false},
        "axis": {"orient": "right", "values": [-0.8, -0.6, -0.4, -0.2, 0, 0.2, 0.4], "format": ".5f", "labelFontSize": 3.1, "labelColor": "#9598a1", "labelPadding": 1, "labelOverlap": false, "ticks": false, "domain": false, "grid": true, "gridColor": "#1c2130", "title": null}},
  "color": {"condition": [{"test": "datum.d >= 0 && datum.d >= datum.pd", "value": "#26a69a"}, {"test": "datum.d >= 0", "value": "#b2dfdb"}, {"test": "datum.pd == null || datum.d > datum.pd", "value": "#ffcdd2"}], "value": "#ff5252"}
 }},
{"mark": {"type": "line", "color": "#2962ff", "strokeWidth": 1},
 "encoding": {
  "x": {"field": "t", "type": "temporal"},
  "y": {"field": "m", "type": "quantitative"}
 }},
{"mark": {"type": "line", "color": "#ff6d00", "strokeWidth": 1},
 "encoding": {
  "x": {"field": "t", "type": "temporal"},
  "y": {"field": "s", "type": "quantitative"}
 }}
]
}
],
"config": {
"font": "Roboto",
"view": {"stroke": "#2a2e39", "strokeWidth": 1},
"axis": {"labelFont": "Roboto"},
"title": {"font": "Roboto"}
}
}
